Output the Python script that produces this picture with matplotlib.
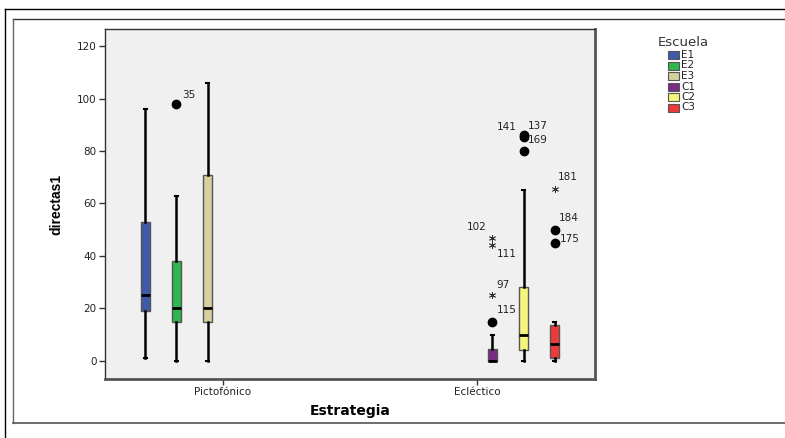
import matplotlib
matplotlib.use("Agg")
import matplotlib.pyplot as plt
from matplotlib.lines import Line2D
from matplotlib.patches import Rectangle

# ---- data -------------------------------------------------------------
strategies = ["Pictofónico", "Ecléctico"]
schools = ["E1", "E2", "E3", "C1", "C2", "C3"]

# (strategy index, school) -> five-number summary
groups = [(0, "E1"), (0, "E2"), (0, "E3"), (1, "C1"), (1, "C2"), (1, "C3")]
whisker_low = [1, 0, 0, 0, 0, 0]
q1 = [19, 15, 15, 0, 4, 1]
median = [25, 20, 20, 0, 10, 6.5]
q3 = [53, 38, 71, 4.5, 28, 13.5]
whisker_high = [96, 63, 106, 10, 65, 15]

# outliers (circles) and extreme values (stars): (group, value, case id)
outliers = [
    ("E2", 98, "35"),
    ("C1", 15, "115"),
    ("C2", 80, "169"),
    ("C2", 85.5, "141"),
    ("C2", 86, "137"),
    ("C3", 50, "184"),
    ("C3", 45, "175"),
]
extremes = [
    ("C1", 25, "97"),
    ("C1", 47, "102"),
    ("C1", 44, "111"),
    ("C3", 65.5, "181"),
]

colors = {
    "E1": "#3d5ba9",
    "E2": "#2fb64d",
    "E3": "#d5d09d",
    "C1": "#7b2a86",
    "C2": "#f6f67c",
    "C3": "#ee3a3a",
}

# label placement of case ids (offset in points, horizontal alignment)
label_offsets = {
    "35": (4, 3, "left"),
    "115": (3, 5, "left"),
    "97": (3, 4, "left"),
    "102": (-4, 4, "right"),
    "111": (3, -10, "left"),
    "169": (3, 4, "left"),
    "141": (-5, 3, "right"),
    "137": (3, 3, "left"),
    "181": (2, 5, "left"),
    "184": (3, 5, "left"),
    "175": (4, -1, "left"),
}

# ---- layout -----------------------------------------------------------
W, H = 785, 438
fig = plt.figure(figsize=(W / 100, H / 100), dpi=100)
fig.patch.set_facecolor("white")
plt.rcParams["font.family"] = ["DejaVu Sans"]

ax = fig.add_axes([105 / W, 1 - 379 / H, (595 - 105) / W, (379 - 29) / H])
ax.set_facecolor("#f0f0f0")

slot = 0.1225
box_w = 0.036


def xpos(name):
    s, school = [g for g in groups if g[1] == name][0]
    return s + (schools.index(school) - 2.5) * slot


stats = []
positions = []
for i, (s, school) in enumerate(groups):
    stats.append(dict(
        whislo=whisker_low[i], q1=q1[i], med=median[i], q3=q3[i],
        whishi=whisker_high[i], fliers=[], label=school,
    ))
    positions.append(xpos(school))

bp = ax.bxp(
    stats, positions=positions, widths=box_w, patch_artist=True,
    showfliers=False, capwidths=0.012,
    boxprops=dict(edgecolor="#555555", linewidth=1.0),
    medianprops=dict(color="black", linewidth=2.0),
    whiskerprops=dict(color="black", linewidth=1.8),
    capprops=dict(color="black", linewidth=1.5),
)
for patch, (_, school) in zip(bp["boxes"], groups):
    patch.set_facecolor(colors[school])

label_font = dict(fontsize=7.5, color="#222222")

for school, val, case in outliers:
    x = xpos(school)
    ax.plot([x], [val], marker="o", markersize=6, color="black",
            linestyle="none", zorder=4)
    dx, dy, ha = label_offsets[case]
    ax.annotate(case, (x, val), xytext=(dx, dy), textcoords="offset points",
                ha=ha, va="bottom", **label_font)

for school, val, case in extremes:
    x = xpos(school)
    ax.plot([x], [val], marker=(6, 2, 0), markersize=5, color="#333333",
            markeredgewidth=0.6, linestyle="none", zorder=4)
    dx, dy, ha = label_offsets[case]
    ax.annotate(case, (x, val), xytext=(dx, dy), textcoords="offset points",
                ha=ha, va="bottom", **label_font)

ax.set_xlim(-0.465, 1.465)
ax.set_ylim(-6.9, 126.5)
ax.set_xticks([0, 1])
ax.set_xticklabels(strategies, fontsize=7.5)
ax.set_yticks(range(0, 121, 20))
ax.set_yticklabels([str(v) for v in range(0, 121, 20)], fontsize=7.5)
ax.tick_params(axis="both", direction="out", length=4, width=1,
               color="#333333", labelcolor="#222222", pad=2)

for side in ["top", "left"]:
    ax.spines[side].set_color("#333333")
    ax.spines[side].set_linewidth(1.0)
for side in ["right", "bottom"]:
    ax.spines[side].set_color("#555555")
    ax.spines[side].set_linewidth(2.0)

ax.set_xlabel("Estrategia", fontsize=10, fontweight="bold", labelpad=5)
ax.set_ylabel("directas1", fontsize=10, fontweight="bold", labelpad=10,
              family=["Liberation Sans Narrow", "Liberation Sans"])

# ---- legend -----------------------------------------------------------
fig.text(683 / W, 1 - 42 / H, "Escuela", ha="center", va="center",
         fontsize=9.5, color="#333333")
row_y = [55, 65.5, 76, 86.5, 97, 107.5]
for school, yy in zip(schools, row_y):
    fig.patches.append(Rectangle((668 / W, 1 - (yy + 4) / H), 11 / W, 8 / H,
                                 transform=fig.transFigure,
                                 facecolor=colors[school],
                                 edgecolor="#555555", linewidth=0.8))
    fig.text(681 / W, 1 - yy / H, school, ha="left", va="center",
             fontsize=7.5, color="#222222")

# ---- surrounding frames -------------------------------------------------
def fline(x0, y0, x1, y1, **kw):
    fig.add_artist(Line2D([x0 / W, x1 / W], [1 - y0 / H, 1 - y1 / H],
                          transform=fig.transFigure, **kw))


fline(5, 9, W, 9, color="black", linewidth=1.0)
fline(5, 9, 5, H, color="black", linewidth=1.0)
fline(13, 19, W, 19, color="#333333", linewidth=1.0)
fline(13, 19, 13, 423, color="#666666", linewidth=1.0)
fline(13, 423, W, 423, color="#555555", linewidth=1.2)

fig.savefig("out.png", dpi=100)
